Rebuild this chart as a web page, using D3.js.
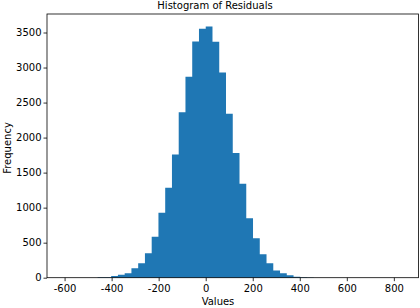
<!DOCTYPE html>
<html>
<head>
<meta charset="utf-8">
<script src="https://cdn.jsdelivr.net/npm/d3@7"></script>
<style>
  body { margin: 0; background: #fff; }
  text { font-family: "DejaVu Sans", sans-serif; }
</style>
</head>
<body>
<div id="chart"></div>
<script>
// Histogram of residuals — 50 equal bins from binMin to binMax
const binMin = -603;
const binMax = 833;
const counts = [
  1, 0, 0, 0, 0, 5, 8, 26, 41, 63,
  134, 205, 348, 585, 927, 1284, 1760, 2360, 2870, 3370,
  3555, 3585, 3367, 2930, 2340, 1780, 1340, 847, 562, 334,
  205, 102, 63, 34, 14, 6, 2, 0, 0, 0,
  0, 0, 0, 0, 0, 0, 0, 0, 0, 1
];
const xTicks = [-600, -400, -200, 0, 200, 400, 600, 800];
const yTicks = [0, 500, 1000, 1500, 2000, 2500, 3000, 3500];

const width = 420, height = 308;
const margin = { top: 14, right: 1.5, bottom: 30.3, left: 47 };
const innerW = width - margin.left - margin.right;
const innerH = height - margin.top - margin.bottom;

const binW = (binMax - binMin) / counts.length;
const bins = counts.map((c, i) => ({ x0: binMin + i * binW, x1: binMin + (i + 1) * binW, n: c }));

const pad = (binMax - binMin) * 0.05;
const x = d3.scaleLinear().domain([binMin - pad, binMax + pad]).range([0, innerW]);
const y = d3.scaleLinear().domain([0, d3.max(counts) * 1.05]).range([innerH, 0]);

const svg = d3.select('#chart').append('svg')
  .attr('width', width).attr('height', height);

const g = svg.append('g').attr('transform', `translate(${margin.left},${margin.top})`);

// bars drawn as one stepped area so neighbouring bars show no seams
const steps = bins.map(d => ({ v: d.x0, n: d.n }));
steps.push({ v: bins[bins.length - 1].x1, n: bins[bins.length - 1].n });

const area = d3.area()
  .curve(d3.curveStepAfter)
  .x(d => x(d.v))
  .y0(innerH)
  .y1(d => y(d.n));

g.append('path')
  .datum(steps)
  .attr('d', area)
  .attr('fill', '#1f77b4');

const plain = d => String(d);

const xAxis = g.append('g')
  .attr('transform', `translate(0,${innerH})`)
  .call(d3.axisBottom(x).tickValues(xTicks).tickFormat(plain).tickSize(3.5).tickPadding(3.5));
const yAxis = g.append('g')
  .call(d3.axisLeft(y).tickValues(yTicks).tickFormat(plain).tickSize(3.5).tickPadding(2));

[xAxis, yAxis].forEach(a => {
  a.select('.domain').remove();
  a.selectAll('line').attr('stroke', '#000').attr('stroke-width', 0.8);
  a.selectAll('text').attr('font-size', '10px').attr('fill', '#000')
    .attr('font-family', '"DejaVu Sans", sans-serif');
});

// frame
g.append('rect')
  .attr('x', 0).attr('y', 0).attr('width', innerW).attr('height', innerH)
  .attr('fill', 'none').attr('stroke', '#000').attr('stroke-width', 0.8);

svg.append('text')
  .attr('x', 215).attr('y', 9)
  .attr('text-anchor', 'middle').attr('font-size', '10px')
  .text('Histogram of Residuals');

svg.append('text')
  .attr('x', 218).attr('y', 305)
  .attr('text-anchor', 'middle').attr('font-size', '10px')
  .text('Values');

svg.append('text')
  .attr('transform', 'translate(11,148) rotate(-90)')
  .attr('text-anchor', 'middle').attr('font-size', '10px')
  .text('Frequency');
</script>
</body>
</html>
